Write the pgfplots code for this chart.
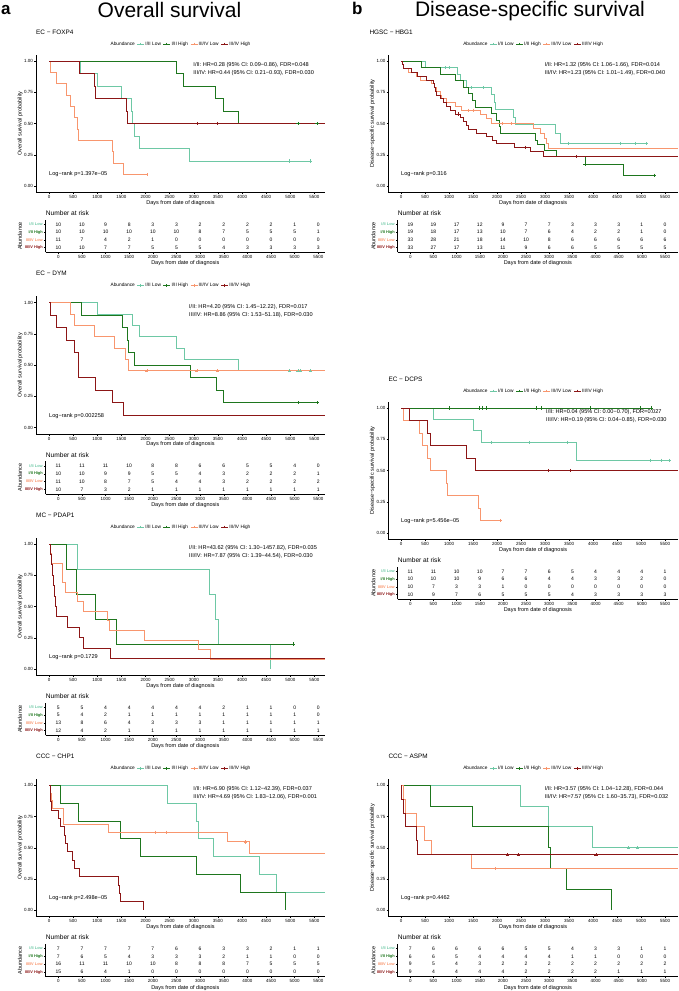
\documentclass[border=0pt]{standalone}
\usepackage{fontspec}
\setmainfont{Liberation Sans}
\usepackage{pgfplots}
\pgfplotsset{compat=1.18}
\usepackage{pgfplotstable}

\definecolor{cLL}{RGB}{110,200,165}
\definecolor{cIH}{RGB}{30,118,30}
\definecolor{cHL}{RGB}{248,150,110}
\definecolor{cHH}{RGB}{140,22,22}

\newcommand\fTick{\fontsize{4.5}{5}\selectfont}
\newcommand\fLab{\fontsize{5.5}{6}\selectfont}
\newcommand\fHR{\fontsize{5.6}{6}\selectfont}
\newcommand\fTitle{\fontsize{6.4}{7}\selectfont}
\newcommand\fLeg{\fontsize{4.8}{5}\selectfont}
\newcommand\fRisk{\fontsize{5}{5}\selectfont}
\newcommand\fRow{\fontsize{3.9}{4}\selectfont\bfseries}
\newcommand\fNar{\fontsize{6.6}{7}\selectfont}

\pgfplotsset{
 common/.style={scale only axis, axis lines=left, axis line style={-,line width=0.5pt},
   tick align=outside, major tick length=1.8pt, tick style={line width=0.45pt,black},
   /pgf/number format/assume math mode=true, /pgf/number format/1000 sep={},
   scaled ticks=false, xtick={0,500,...,5500},
   xticklabel style={font=\fTick, inner sep=1pt}, yticklabel style={inner sep=1pt},
   clip mode=individual, xlabel={Days from date of diagnosis}, xlabel style={font=\fLab}},
 km/.style={common, height=137.5pt, ymin=-0.05, ymax=1.05, ytick={0,0.25,0.5,0.75,1},
   yticklabel style={font=\fTick,/pgf/number format/fixed,/pgf/number format/fixed zerofill,/pgf/number format/precision=2},
   xlabel style={at={(axis description cs:0.5,-0.076)},anchor=center},
   ylabel style={font=\fLab, at={(axis description cs:-0.055,0.5)}, anchor=center},
   legend style={draw=none, fill=none, at={(0.5,1.078)}, anchor=center, legend columns=-1,
     font=\fLeg, inner sep=0pt, nodes={inner sep=0.8pt},
     /tikz/every even column/.append style={column sep=1.2pt}},
   legend cell align=left,
   legend image code/.code={\draw[mark repeat=2,mark phase=2,#1] plot coordinates {(0pt,0pt) (3.5pt,0pt) (7pt,0pt)};}},
 kmL/.style={km, width=289pt, xmin=-270, xmax=5720, ylabel={Overall survival probability}},
 kmR/.style={km, width=289.7pt, xmin=-265, xmax=5770, ylabel={Disease−specific survival probability}},
 rt/.style={common, height=32.76pt, ymin=0.4, ymax=4.6, ytick={1,2,3,4},
   yticklabels={\textcolor{cHH}{III/IV High},\textcolor{cHL}{III/IV Low},\textcolor{cIH}{I/II High},\textcolor{cLL}{I/II Low}},
   yticklabel style={font=\fRow}, ylabel={Abundance}, ylabel style={font=\fLab, anchor=center},
   xlabel style={at={(axis description cs:0.5,-0.333)},anchor=center}},
 rtL/.style={rt, width=279.3pt, xmin=-267, xmax=5642, ylabel style={at={(axis description cs:-0.092,0.5)}}},
 rtR/.style={rt, width=280.3pt, xmin=-272, xmax=5780, ylabel style={at={(axis description cs:-0.087,0.5)}}},
 c1/.style={const plot, mark=none, line width=0.85pt, color=cLL, forget plot},
 c2/.style={const plot, mark=none, line width=0.85pt, color=cIH, forget plot},
 c3/.style={const plot, mark=none, line width=0.85pt, color=cHL, forget plot},
 c4/.style={const plot, mark=none, line width=0.85pt, color=cHH, forget plot},
 m1/.style={only marks, mark=+, mark size=1.6pt, color=cLL, forget plot, mark options={line width=0.5pt}},
 m2/.style={only marks, mark=+, mark size=1.6pt, color=cIH, forget plot, mark options={line width=0.5pt}},
 m3/.style={only marks, mark=+, mark size=1.6pt, color=cHL, forget plot, mark options={line width=0.5pt}},
 m4/.style={only marks, mark=+, mark size=1.6pt, color=cHH, forget plot, mark options={line width=0.5pt}},
 risk/.style={draw=none, mark=none, forget plot, nodes near coords, nodes near coords align={center},
   point meta=explicit symbolic, every node near coord/.append style={font=\fRisk, inner sep=0pt, text=black}},
}

\newcommand\kmlegend{%
 \addlegendimage{empty legend}\addlegendentry{Abundance}
 \addlegendimage{cLL, line width=0.8pt, mark=+, mark size=1.4pt}\addlegendentry{I/II Low}
 \addlegendimage{cIH, line width=0.8pt, mark=+, mark size=1.4pt}\addlegendentry{I/II High}
 \addlegendimage{cHL, line width=0.8pt, mark=+, mark size=1.4pt}\addlegendentry{III/IV Low}
 \addlegendimage{cHH, line width=0.8pt, mark=+, mark size=1.4pt}\addlegendentry{III/IV High}}

\newcommand\riskplots[1]{%
 \addplot[risk] table[x=t,y expr=4,meta=a]{#1};
 \addplot[risk] table[x=t,y expr=3,meta=b]{#1};
 \addplot[risk] table[x=t,y expr=2,meta=c]{#1};
 \addplot[risk] table[x=t,y expr=1,meta=d]{#1};}

\pgfplotstableread{
t a b c d
0 10 10 11 10
500 10 10 7 10
1000 9 10 4 7
1500 8 10 2 7
2000 3 10 1 5
2500 3 10 0 5
3000 2 8 0 5
3500 2 7 0 4
4000 2 5 0 3
4500 2 5 0 3
5000 1 5 0 3
5500 0 1 0 3
}\rA
\pgfplotstableread{
t a b c d
0 11 10 11 10
500 11 10 10 7
1000 11 9 8 3
1500 10 9 7 2
2000 8 5 5 1
2500 8 5 4 1
3000 6 4 4 1
3500 6 3 3 1
4000 5 2 2 1
4500 5 2 2 1
5000 4 2 2 1
5500 0 1 2 1
}\rB
\pgfplotstableread{
t a b c d
0 5 5 13 12
500 5 4 8 4
1000 4 2 6 2
1500 4 1 4 1
2000 4 1 3 1
2500 4 1 3 1
3000 4 1 3 1
3500 2 1 1 1
4000 1 1 1 1
4500 1 1 1 1
5000 0 1 1 1
5500 0 0 1 1
}\rC
\pgfplotstableread{
t a b c d
0 7 7 16 15
500 7 6 11 6
1000 7 5 11 4
1500 7 4 10 1
2000 7 3 10 0
2500 6 3 8 0
3000 6 3 8 0
3500 3 2 8 0
4000 3 1 7 0
4500 2 1 5 0
5000 1 0 5 0
5500 1 0 5 0
}\rD
\pgfplotstableread{
t a b c d
0 19 19 33 33
500 19 18 28 27
1000 17 17 21 17
1500 12 13 18 13
2000 9 10 14 11
2500 7 7 10 9
3000 7 6 8 6
3500 3 4 6 6
4000 3 2 6 5
4500 3 2 6 5
5000 1 1 6 5
5500 0 0 6 5
}\rE
\pgfplotstableread{
t a b c d
0 11 10 10 10
500 11 10 7 9
1000 10 10 3 7
1500 10 9 3 6
2000 7 6 1 5
2500 7 6 0 5
3000 6 4 0 5
3500 5 4 0 4
4000 4 3 0 3
4500 4 3 0 3
5000 4 2 0 3
5500 1 0 0 3
}\rF
\pgfplotstableread{
t a b c d
0 7 6 9 9
500 6 6 5 4
1000 6 5 4 4
1500 6 4 3 4
2000 6 4 2 4
2500 5 4 2 2
3000 5 4 2 2
3500 4 1 2 2
4000 3 1 2 2
4500 3 0 2 1
5000 1 0 2 1
5500 1 0 2 1
}\rG

\newcommand\hr[3]{%
 \node[anchor=west,font=\fHR,inner sep=0pt] at (axis cs:#3,0.968) {#1};
 \node[anchor=west,font=\fHR,inner sep=0pt] at (axis cs:#3,0.903) {#2};}
\newcommand\lr[1]{\node[anchor=west,font=\fHR,inner sep=0pt] at (axis cs:0,0.097) {Log−rank p=#1};}

\begin{document}
\begin{tikzpicture}
\useasboundingbox (0pt,0pt) rectangle (678pt,991pt);
% headings
\node[anchor=base west, font=\fontsize{17}{17}\selectfont\bfseries, inner sep=0pt] at (1pt,976pt) {a};
\node[anchor=base, font=\fontsize{21}{21}\selectfont, inner sep=0pt] at (169.5pt,973.7pt) {Overall survival};
\node[anchor=base west, font=\fontsize{17}{17}\selectfont\bfseries, inner sep=0pt] at (352pt,976pt) {b};
\node[anchor=base, font=\fontsize{21}{21}\selectfont, inner sep=0pt] at (530pt,974.3pt) {Disease-specific survival};
% panel titles
\node[anchor=west, font=\fTitle, inner sep=0pt] at (36pt,959pt) {EC − FOXP4};
\node[anchor=west, font=\fTitle, inner sep=0pt] at (36pt,717.3pt) {EC − DYM};
\node[anchor=west, font=\fTitle, inner sep=0pt] at (36pt,476pt) {MC − PDAP1};
\node[anchor=west, font=\fTitle, inner sep=0pt] at (36pt,234.7pt) {CCC − CHP1};
\node[anchor=west, font=\fTitle, inner sep=0pt] at (369.3pt,959pt) {HGSC − HBG1};
\node[anchor=west, font=\fTitle, inner sep=0pt] at (388.3pt,612pt) {EC − DCPS};
\node[anchor=west, font=\fTitle, inner sep=0pt] at (388.3pt,234.7pt) {CCC − ASPM};
% number at risk
\foreach \p in {(45.7pt,777.7pt),(45.7pt,536pt),(45.7pt,294.7pt),(45.7pt,53.4pt),(397.7pt,777.7pt),(397.7pt,430.7pt),(397.7pt,53.4pt)}
  \node[anchor=west, font=\fNar, inner sep=0pt] at \p {Number at risk};

% ===== A1 EC-FOXP4
\begin{axis}[kmL, at={(36pt,798.75pt)}, anchor=south west]
\kmlegend
\addplot[c1] coordinates {(0,1)(643,0.9)(1003,0.8)(1510,0.7)(1700,0.6)(1736,0.5)(1763,0.4)(1874,0.3)(2911,0.2)(5415,0.2)};
\addplot[c2] coordinates {(0,1)(2649,0.9)(2787,0.8)(3444,0.7)(3617,0.6)(3935,0.5)(5553,0.5)};
\addplot[c3] coordinates {(0,1)(35,0.909)(145,0.818)(366,0.727)(436,0.636)(519,0.545)(595,0.455)(610,0.364)(1321,0.273)(1335,0.182)(1542,0.091)(2026,0.091)};
\addplot[c4] coordinates {(0,1)(629,0.9)(933,0.8)(968,0.7)(1598,0.6)(1632,0.5)(5720,0.5)};
\addplot[m1] coordinates {(4986,0.2)(5415,0.2)};
\addplot[m2] coordinates {(5159,0.5)(5553,0.5)};
\addplot[m3] coordinates {(2026,0.091)};
\addplot[m4] coordinates {(3064,0.5)(3492,0.5)};
\hr{I/II: HR=0.28 (95\% CI: 0.09−0.86), FDR=0.048}{III/IV: HR=0.44 (95\% CI: 0.21−0.93), FDR=0.030}{2990}
\lr{1.397e−05}
\end{axis}
\begin{axis}[rtL, at={(45.7pt,738.6pt)}, anchor=south west]
\riskplots{\rA}
\end{axis}

% ===== A2 EC-DYM
\begin{axis}[kmL, at={(36pt,557.05pt)}, anchor=south west]
\kmlegend
\addplot[c1] coordinates {(0,1)(1003,0.909)(1736,0.818)(1874,0.727)(2635,0.636)(2808,0.545)(3935,0.455)(5415,0.455)};
\addplot[c2] coordinates {(0,1)(664,0.9)(1520,0.8)(1632,0.7)(1650,0.6)(1770,0.5)(2925,0.4)(3465,0.3)(3624,0.2)(5553,0.2)};
\addplot[c3] coordinates {(0,1)(436,0.909)(519,0.818)(933,0.727)(1349,0.636)(1591,0.545)(1646,0.455)(5720,0.455)};
\addplot[c4] coordinates {(0,1)(35,0.9)(145,0.8)(366,0.7)(525,0.6)(600,0.5)(609,0.4)(968,0.3)(1314,0.2)(1542,0.1)(5720,0.1)};
\addplot[m1] coordinates {(4986,0.455)(5159,0.455)(5207,0.455)(5415,0.455)};
\addplot[m2] coordinates {(5159,0.2)(5553,0.2)};
\addplot[m3] coordinates {(2026,0.455)(3064,0.455)(3492,0.455)};
\hr{I/II: HR=4.20 (95\% CI: 1.45−12.22), FDR=0.017}{III/IV: HR=8.86 (95\% CI: 1.53−51.18), FDR=0.030}{2900}
\lr{0.002258}
\end{axis}
\begin{axis}[rtL, at={(45.7pt,496.9pt)}, anchor=south west]
\riskplots{\rB}
\end{axis}

% ===== A3 MC-PDAP1
\begin{axis}[kmL, at={(36pt,315.75pt)}, anchor=south west]
\kmlegend
\addplot[c1] coordinates {(0,1)(595,0.8)(3320,0.6)(3444,0.4)(3513,0.2)(4585,0)};
\addplot[c2] coordinates {(0,1)(366,0.8)(574,0.6)(954,0.4)(1404,0.2)(5055,0.2)};
\addplot[c3] coordinates {(0,1)(35,0.923)(55,0.846)(284,0.692)(346,0.615)(588,0.538)(712,0.462)(1210,0.385)(1252,0.308)(1971,0.231)(3098,0.154)(3354,0.077)(5720,0.077)};
\addplot[c4] coordinates {(0,1)(20,0.917)(40,0.833)(70,0.75)(90,0.667)(110,0.583)(140,0.5)(159,0.417)(387,0.333)(622,0.25)(712,0.167)(1265,0.083)(5720,0.083)};
\addplot[m2] coordinates {(5055,0.2)};
\hr{I/II: HR=43.62 (95\% CI: 1.30−1457.82), FDR=0.035}{III/IV: HR=7.87 (95\% CI: 1.39−44.54), FDR=0.030}{2900}
\lr{0.1729}
\end{axis}
\begin{axis}[rtL, at={(45.7pt,255.6pt)}, anchor=south west]
\riskplots{\rC}
\end{axis}

% ===== A4 CCC-CHP1
\begin{axis}[kmL, at={(36pt,74.45pt)}, anchor=south west]
\kmlegend
\addplot[c1] coordinates {(0,1)(2462,0.857)(3064,0.714)(3105,0.571)(3409,0.429)(4364,0.286)(4703,0.143)(5720,0.143)};
\addplot[c2] coordinates {(0,1)(228,0.857)(609,0.714)(1473,0.571)(1888,0.429)(3050,0.286)(3976,0.143)(4896,0)};
\addplot[c3] coordinates {(0,1)(20,0.9375)(45,0.875)(80,0.8125)(297,0.6875)(1231,0.625)(3700,0.547)(4156,0.456)(5720,0.456)};
\addplot[c4] coordinates {(0,1)(20,0.933)(35,0.867)(60,0.8)(194,0.733)(242,0.667)(311,0.6)(346,0.533)(387,0.467)(480,0.4)(520,0.333)(622,0.267)(1438,0.2)(1450,0.133)(1470,0.067)(1957,0)};
\addplot[m3] coordinates {(2199,0.625)(2420,0.625)(4066,0.547)};
\hr{I/II: HR=6.90 (95\% CI: 1.12−42.39), FDR=0.037}{III/IV: HR=4.69 (95\% CI: 1.83−12.06), FDR=0.001}{2990}
\lr{2.498e−05}
\end{axis}
\begin{axis}[rtL, at={(45.7pt,14.3pt)}, anchor=south west]
\riskplots{\rD}
\end{axis}

% ===== B1 HGSC-HBG1
\begin{axis}[kmR, at={(388.3pt,798.75pt)}, anchor=south west]
\kmlegend
\addplot[c1] coordinates {(0,1)(510,0.947)(1174,0.895)(1243,0.842)(1368,0.789)(1889,0.73)(1938,0.67)(1960,0.61)(2340,0.55)(2389,0.49)(3208,0.42)(3313,0.34)(5104,0.34)};
\addplot[c2] coordinates {(0,1)(417,0.947)(812,0.895)(1125,0.842)(1299,0.789)(1403,0.737)(1493,0.684)(1542,0.632)(1889,0.579)(1993,0.526)(2049,0.474)(2080,0.421)(2792,0.368)(2850,0.33)(2979,0.286)(3243,0.233)(3833,0.174)(4632,0.087)(5278,0.087)};
\addplot[c3] coordinates {(0,1)(20,0.97)(60,0.94)(150,0.909)(326,0.879)(400,0.848)(639,0.818)(700,0.788)(743,0.758)(812,0.727)(850,0.697)(950,0.667)(1125,0.636)(1264,0.606)(1646,0.572)(1785,0.538)(1889,0.5)(2757,0.46)(2896,0.42)(2979,0.38)(3020,0.34)(3069,0.30)(5770,0.30)};
\addplot[c4] coordinates {(0,1)(20,0.97)(40,0.94)(222,0.909)(340,0.879)(535,0.848)(674,0.818)(700,0.788)(720,0.758)(743,0.727)(812,0.697)(880,0.667)(940,0.636)(1020,0.606)(1125,0.576)(1229,0.545)(1290,0.515)(1354,0.485)(1400,0.455)(1576,0.424)(1785,0.394)(1900,0.364)(1993,0.337)(2354,0.31)(2688,0.275)(2965,0.235)(5770,0.235)};
\addplot[m1] coordinates {(917,0.947)(1007,0.947)(1472,0.789)(1715,0.789)(3493,0.34)(4563,0.34)(4875,0.34)(5104,0.34)};
\addplot[m2] coordinates {(3833,0.174)(5278,0.087)};
\addplot[m3] coordinates {(1403,0.606)(1507,0.606)(2100,0.5)(2300,0.5)};
\addplot[m4] coordinates {(1190,0.576)(2583,0.31)(3660,0.235)};
\hr{I/II: HR=1.32 (95\% CI: 1.06−1.66), FDR=0.014}{III/IV: HR=1.23 (95\% CI: 1.01−1.49), FDR=0.040}{2990}
\lr{0.316}
\end{axis}
\begin{axis}[rtR, at={(397.7pt,738.6pt)}, anchor=south west]
\riskplots{\rE}
\end{axis}

% ===== B2 EC-DCPS
\begin{axis}[kmR, at={(388.3pt,451.75pt)}, anchor=south west]
\kmlegend
\addplot[c1] coordinates {(0,1)(674,0.909)(1507,0.818)(1681,0.727)(3646,0.582)(5590,0.582)};
\addplot[c2] coordinates {(0,1)(5208,1)};
\addplot[c3] coordinates {(0,1)(49,0.9)(382,0.8)(444,0.7)(549,0.6)(618,0.5)(938,0.4)(965,0.3)(1604,0.2)(1646,0.1)(2063,0.1)};
\addplot[c4] coordinates {(0,1)(167,0.9)(549,0.8)(618,0.7)(1354,0.6)(1542,0.5)(5770,0.5)};
\addplot[m1] coordinates {(1889,0.727)(2667,0.727)(3465,0.727)(5188,0.582)(5431,0.582)(5590,0.582)};
\addplot[m2] coordinates {(1007,1)(1632,1)(1701,1)(1771,1)(2826,1)(2931,1)(3938,1)(4979,1)(5208,1)};
\addplot[m3] coordinates {(2063,0.1)};
\addplot[m4] coordinates {(3069,0.5)(3521,0.5)};
\hr{I/II: HR=0.04 (95\% CI: 0.00−0.70), FDR=0.027}{III/IV: HR=0.19 (95\% CI: 0.04−0.85), FDR=0.030}{3020}
\lr{5.456e−05}
\end{axis}
\begin{axis}[rtR, at={(397.7pt,391.6pt)}, anchor=south west]
\riskplots{\rF}
\end{axis}

% ===== B3 CCC-ASPM
\begin{axis}[kmR, at={(388.3pt,74.45pt)}, anchor=south west]
\kmlegend
\addplot[c1] coordinates {(0,1)(2479,0.833)(3069,0.667)(3990,0.5)(5770,0.5)};
\addplot[c2] coordinates {(0,1)(604,0.833)(1493,0.667)(3069,0.5)(3104,0.333)(3451,0.167)(4389,0)};
\addplot[c3] coordinates {(0,1)(60,0.889)(83,0.778)(313,0.667)(486,0.556)(639,0.444)(1472,0.333)(5770,0.333)};
\addplot[c4] coordinates {(0,1)(15,0.889)(49,0.778)(83,0.667)(313,0.556)(340,0.444)(5770,0.444)};
\addplot[m1] coordinates {(4736,0.5)(4931,0.5)};
\addplot[m3] coordinates {(1958,0.333)};
\addplot[m4] coordinates {(2215,0.444)(2444,0.444)(4063,0.444)};
\hr{I/II: HR=3.57 (95\% CI: 1.04−12.28), FDR=0.044}{III/IV: HR=7.57 (95\% CI: 1.60−35.73), FDR=0.032}{2990}
\lr{0.4462}
\end{axis}
\begin{axis}[rtR, at={(397.7pt,14.3pt)}, anchor=south west]
\riskplots{\rG}
\end{axis}
\end{tikzpicture}
\end{document}
